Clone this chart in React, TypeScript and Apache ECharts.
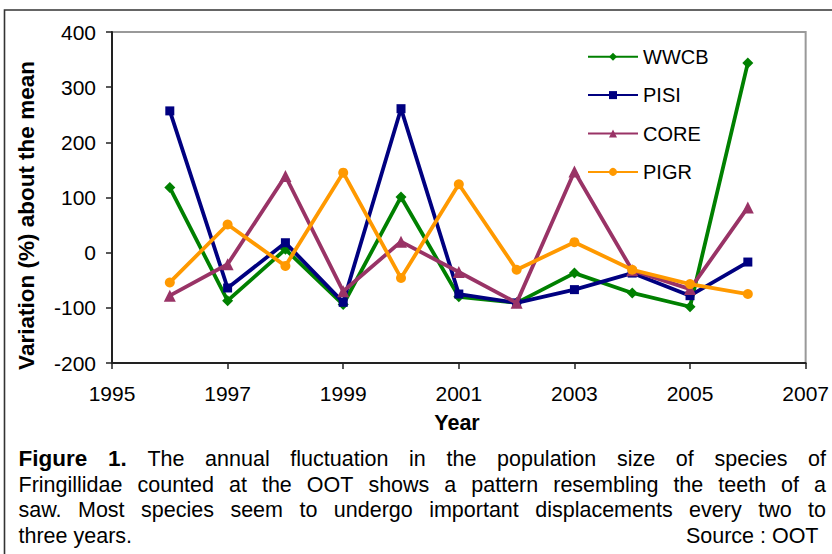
import React, { useEffect, useRef } from 'react';
import * as echarts from 'echarts';

const YEARS = [1996, 1997, 1998, 1999, 2000, 2001, 2002, 2003, 2004, 2005, 2006];
const WWCB = [118, -87, 6, -94, 101, -80, -91, -37, -73, -98, 344];
const PISI = [257, -64, 18, -90, 261, -75, -91, -67, -37, -78, -17];
const CORE = [-78, -21, 139, -70, 20, -35, -91, 147, -32, -66, 82];
const PIGR = [-54, 51, -24, 145, -46, 124, -31, 19, -31, -57, -75];

const SERIES_NAMES = ['WWCB', 'PISI', 'CORE', 'PIGR'];
const X_MIN_YEAR = 1995;
const X_MAX_YEAR = 2007;
const X_STEP = 2;
const Y_MIN = -200;
const Y_MAX = 400;
const Y_STEP = 100;

const X_TITLE = 'Year';
const Y_TITLE = 'Variation (%) about the mean';
const CAPTION_BOLD = 'Figure 1.';
const CAPTION_JUSTIFIED = [
  'Figure 1. The annual fluctuation in the population size of species of',
  'Fringillidae counted at the OOT shows a pattern resembling the teeth of a',
  'saw. Most species seem to undergo important displacements every two to',
];
const CAPTION_LAST = 'three years.';
const SOURCE = 'Source : OOT';

const FONT = '"Liberation Sans", Arial, Helvetica, sans-serif';
const COLORS = ['#008000', '#000080', '#993366', '#FF9900'];
const SYMBOLS = ['diamond', 'rect', 'triangle', 'circle'];
const SYMBOL_SIZES = [11, 9, 12, 10];

export default function App() {
  const ref = useRef<HTMLDivElement>(null);
  useEffect(() => {
    const chart = echarts.init(ref.current!, null, { renderer: 'svg' });
    const values = [WWCB, PISI, CORE, PIGR];

    const capFs = 21.5;
    const capBoldFs = 22.5;
    const canvas = document.createElement('canvas');
    const ctx = canvas.getContext('2d')!;
    const fontOf = (bold: boolean) => (bold ? `bold ${capBoldFs}px ${FONT}` : `${capFs}px ${FONT}`);
    const measure = (t: string, bold: boolean) => {
      ctx.font = fontOf(bold);
      return ctx.measureText(t).width;
    };
    const capLeft = 18.5;
    const capRight = 826;
    const baselines = [466.7, 492.2, 517.7, 543.2];
    const mid = (b: number) => b - 0.35 * capFs;
    const boldWords = CAPTION_BOLD.split(' ');
    const graphics: any[] = [];
    CAPTION_JUSTIFIED.forEach((line, li) => {
      const words = line.split(' ');
      const isBold = words.map((w, wi) => li === 0 && wi < boldWords.length);
      const widths = words.map((w, wi) => measure(w, isBold[wi]));
      const total = widths.reduce((a, b) => a + b, 0);
      const gap = (capRight - capLeft - total) / (words.length - 1);
      let x = capLeft;
      words.forEach((w, wi) => {
        graphics.push({
          type: 'text',
          x,
          y: mid(baselines[li]) + (isBold[wi] ? -0.35 * (capBoldFs - capFs) : 0),
          style: {
            text: w,
            font: fontOf(isBold[wi]),
            fill: '#000',
            align: 'left',
            verticalAlign: 'middle',
          },
        });
        x += widths[wi] + gap;
      });
    });
    graphics.push({
      type: 'text', x: capLeft, y: mid(baselines[3]),
      style: { text: CAPTION_LAST, font: fontOf(false), fill: '#000', align: 'left', verticalAlign: 'middle' },
    });
    graphics.push({
      type: 'text', x: 818.5, y: mid(baselines[3]),
      style: { text: SOURCE, font: fontOf(false), fill: '#000', align: 'right', verticalAlign: 'middle' },
    });
    graphics.push({
      type: 'rect',
      shape: { x: 4.5, y: 10, width: 1000, height: 1000 },
      style: { fill: 'none', stroke: '#333', lineWidth: 1.6 },
      silent: true,
    });
    graphics.push({
      type: 'text', x: 457, y: 423.3,
      style: { text: X_TITLE, font: `bold 21.5px ${FONT}`, fill: '#000', align: 'center', verticalAlign: 'middle' },
    });
    graphics.push({
      type: 'text', x: 26, y: 215.5, rotation: Math.PI / 2,
      style: { text: Y_TITLE, font: `bold 22.5px ${FONT}`, fill: '#000', align: 'center', verticalAlign: 'middle' },
    });

    const option: any = {
      animation: false,
      backgroundColor: '#fff',
      textStyle: { fontFamily: FONT },
      grid: {
        left: 112, right: 24, top: 32, bottom: 191,
        show: true, borderColor: '#999', borderWidth: 2,
      },
      legend: {
        orient: 'vertical',
        left: 587,
        top: 46.7,
        padding: 0,
        itemWidth: 50,
        itemHeight: 10,
        itemGap: 18.4,
        textStyle: { fontSize: 20, color: '#000', fontFamily: FONT },
        data: SERIES_NAMES,
      },
      xAxis: {
        type: 'value',
        min: 0,
        max: X_MAX_YEAR - X_MIN_YEAR,
        interval: X_STEP,
        axisLine: { show: true, onZero: false, lineStyle: { color: '#222', width: 2 } },
        axisTick: { show: true, length: 6, lineStyle: { color: '#222', width: 1.5 } },
        axisLabel: {
          fontSize: 21, color: '#000', margin: 20, fontFamily: FONT,
          formatter: (v: number) => String(v + X_MIN_YEAR),
        },
        splitLine: { show: false },
      },
      yAxis: {
        type: 'value',
        min: Y_MIN,
        max: Y_MAX,
        interval: Y_STEP,
        axisLine: { show: true, onZero: false, lineStyle: { color: '#222', width: 2 } },
        axisTick: { show: true, length: 6, lineStyle: { color: '#222', width: 1.5 } },
        axisLabel: { fontSize: 21, color: '#000', margin: 16, fontFamily: FONT },
        splitLine: { show: false },
      },
      series: SERIES_NAMES.map((name, i) => ({
        name,
        type: 'line',
        data: YEARS.map((y, j) => [y - X_MIN_YEAR, values[i][j]]),
        symbol: SYMBOLS[i],
        symbolSize: SYMBOL_SIZES[i],
        lineStyle: { width: 3.8, color: COLORS[i] },
        itemStyle: { color: COLORS[i] },
        z: 2 + i,
      })),
      graphic: graphics,
    };
    chart.setOption(option);
    return () => chart.dispose();
  }, []);
  return (
    <div
      ref={ref}
      style={{ position: 'fixed', left: 0, top: 0, width: 832, height: 554, background: '#fff' }}
    />
  );
}
